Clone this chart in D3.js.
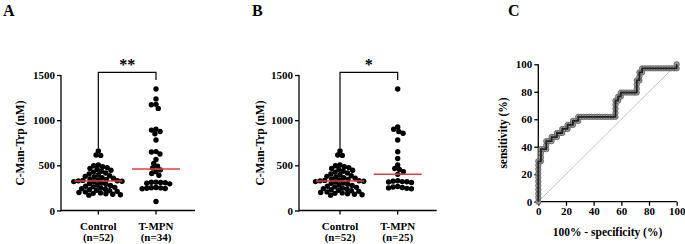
<!DOCTYPE html>
<html><head><meta charset="utf-8">
<script src="https://cdn.jsdelivr.net/npm/d3@7"></script>
<style>
body{margin:0;background:#fff}
text{font-family:"Liberation Serif","Times New Roman",serif;font-weight:bold;fill:#000}
</style>
</head><body><svg id="c" width="685" height="244"></svg>
<script>
// ---------------- data ----------------
const categories = ["Control", "T-MPN"];
const nLabelsA = ["(n=52)", "(n=34)"];
const nLabelsB = ["(n=52)", "(n=25)"];
const controlValues = [660, 615, 610, 505, 495, 485, 475, 465, 455, 445, 435, 425, 415, 405, 395,
  385, 378, 371, 364, 357, 350, 344, 338, 333, 330, 328, 324, 320, 317, 305, 298,
  290, 283, 276, 269, 262, 256, 248, 242,
  236, 230, 224, 218, 212, 206, 200, 195, 190, 185, 180, 175, 170];
const tmpnA = [1345, 1235, 1175, 1170, 1130, 900, 890, 875, 850, 780,
  652, 648, 625, 565, 520, 490, 470, 450, 430, 410, 390,
  314, 312, 310, 308, 302, 295, 254, 252, 250, 246, 244, 240, 100];
const tmpnB = [1345, 925, 900, 875, 855, 780, 650, 575, 505, 465, 455, 430, 400,
  330, 325, 320, 318, 315, 310, 265, 260, 255, 250, 245, 240];
const yTicks = [0, 500, 1000, 1500];
const rocTicks = [0, 20, 40, 60, 80, 100];
const sigA = "**", sigB = "*";
const bracketValues = {leftEnd: 690, rightEnd: 1445, top: 1530};

// ---------------- drawing ----------------
const svg = d3.select("#c");
const red = "#e5413a";
const R = 2.7;

function swarm(vals, cx, y, r) {
  const pts = vals.map(v => ({v, y: y(v)})).sort((a, b) => a.y - b.y);
  const placed = [];
  const d = 2 * r * 0.86;
  for (const p of pts) {
    const blocked = [];
    for (const q of placed) {
      const dy = Math.abs(q.y - p.y);
      if (dy < d) { const w = Math.sqrt(d * d - dy * dy); blocked.push([q.dx - w, q.dx + w]); }
    }
    const cands = [0];
    blocked.forEach(b => cands.push(b[0], b[1]));
    cands.sort((a, b) => Math.abs(a) - Math.abs(b));
    let dx = 0;
    for (const c of cands) {
      if (!blocked.some(b => c > b[0] + 1e-6 && c < b[1] - 1e-6)) { dx = c; break; }
    }
    p.dx = dx; placed.push(p);
  }
  return placed.map(p => ({x: cx + p.dx, y: p.y}));
}

function styleAxis(a) {
  a.select(".domain").remove();
  a.selectAll("line").attr("stroke", "#000").attr("stroke-width", 1.3);
  a.selectAll("text").style("font-size", "11px").style("font-family", "Liberation Serif").style("font-weight", "bold");
}

function scatterPanel(o) {
  const g = svg.append("g");
  const y = d3.scaleLinear().domain([0, 1500]).range([210.5, 75]);
  const x = d3.scalePoint().domain(categories).range(o.cats);
  const ya = g.append("g").attr("transform", `translate(${o.axisX},0)`)
    .call(d3.axisLeft(y).tickValues(yTicks).tickSize(4).tickPadding(2).tickFormat(d3.format("d")));
  styleAxis(ya);
  g.append("line").attr("x1", o.axisX).attr("x2", o.axisX).attr("y1", y(0) + 0.65).attr("y2", y(1500))
    .attr("stroke", "#000").attr("stroke-width", 1.3);
  g.append("line").attr("x1", o.axisX).attr("x2", o.xEnd).attr("y1", y(0)).attr("y2", y(0))
    .attr("stroke", "#000").attr("stroke-width", 1.3);
  categories.forEach((c, i) => {
    g.append("line").attr("x1", x(c)).attr("x2", x(c)).attr("y1", y(0)).attr("y2", y(0) + 4)
      .attr("stroke", "#000").attr("stroke-width", 1.3);
    g.append("text").attr("x", x(c)).attr("y", 229.5).attr("text-anchor", "middle").style("font-size", "11px").text(c);
    g.append("text").attr("x", x(c)).attr("y", 240.5).attr("text-anchor", "middle").style("font-size", "11px").text(o.nLabels[i]);
  });
  g.append("text").attr("transform", `translate(${o.titleX},143) rotate(-90)`).attr("text-anchor", "middle")
    .style("font-size", "11.5px").text("C-Man-Trp (nM)");
  const xl = x(categories[0]), xr = x(categories[1]);
  g.append("path").attr("d", `M${xl},${y(bracketValues.leftEnd)}V${y(bracketValues.top)}H${xr}V${y(bracketValues.rightEnd)}`)
    .attr("fill", "none").attr("stroke", "#000").attr("stroke-width", 1.2);
  g.append("text").attr("x", (xl + xr) / 2).attr("y", 70).attr("text-anchor", "middle")
    .style("font-size", "16px").text(o.sig);
  o.groups.forEach((vals, i) => {
    const pts = swarm(vals, x(categories[i]), y, R);
    g.append("g").selectAll("circle").data(pts).join("circle")
      .attr("cx", d => d.x).attr("cy", d => d.y).attr("r", R).attr("fill", "#000");
  });
  o.groups.forEach((vals, i) => {
    const m = d3.median(vals);
    g.append("line").attr("x1", x(categories[i]) - 24).attr("x2", x(categories[i]) + 24)
      .attr("y1", y(m)).attr("y2", y(m)).attr("stroke", red).attr("stroke-width", 1.5);
  });
  svg.append("text").attr("x", o.letterX).attr("y", 15.5).style("font-size", "16px").text(o.letter);
}

scatterPanel({axisX: 61, xEnd: 195, cats: [98.3, 156], groups: [controlValues, tmpnA],
  nLabels: nLabelsA, sig: sigA, letter: "A", letterX: 3, titleX: 23.5});
scatterPanel({axisX: 299, xEnd: 436.7, cats: [340, 397.7], groups: [controlValues, tmpnB],
  nLabels: nLabelsB, sig: sigB, letter: "B", letterX: 252, titleX: 263.5});

// ---------------- ROC panel ----------------
(function () {
  const g = svg.append("g");
  const x = d3.scaleLinear().domain([0, 100]).range([538.3, 676.7]);
  const y = d3.scaleLinear().domain([0, 100]).range([201.7, 64.3]);
  const thresholds = Array.from(new Set(controlValues.concat(tmpnA))).sort((a, b) => b - a);
  const roc = [{fpr: 0, tpr: 0}];
  thresholds.forEach(t => {
    roc.push({
      fpr: 100 * controlValues.filter(v => v >= t).length / controlValues.length,
      tpr: 100 * tmpnA.filter(v => v >= t).length / tmpnA.length
    });
  });
  g.append("line").attr("x1", x(0)).attr("y1", y(0)).attr("x2", x(100)).attr("y2", y(100))
    .attr("stroke", "#b8b8b8").attr("stroke-width", 0.8);
  const ya = g.append("g").attr("transform", `translate(${x(0)},0)`)
    .call(d3.axisLeft(y).tickValues(rocTicks).tickSize(4).tickPadding(2));
  styleAxis(ya);
  const xa = g.append("g").attr("transform", `translate(0,${y(0)})`)
    .call(d3.axisBottom(x).tickValues(rocTicks).tickSize(4).tickPadding(2));
  styleAxis(xa);
  g.append("path").attr("d", `M${x(0)},${y(100)}V${y(0) + 0.65}`).attr("stroke", "#000").attr("stroke-width", 1.3);
  g.append("path").attr("d", `M${x(0) - 0.65},${y(0)}H${x(100)}`).attr("stroke", "#000").attr("stroke-width", 1.3);
  g.append("g").selectAll("circle").data(roc).join("circle")
    .attr("cx", d => x(d.fpr)).attr("cy", d => y(d.tpr)).attr("r", 2.7)
    .attr("fill", "#9a9a9a").attr("stroke", "#555").attr("stroke-width", 0.7);
  g.append("path").datum(roc)
    .attr("d", d3.line().x(d => x(d.fpr)).y(d => y(d.tpr)))
    .attr("fill", "none").attr("stroke", "#222").attr("stroke-width", 1.8);
  g.append("text").attr("transform", `translate(507,133) rotate(-90)`).attr("text-anchor", "middle")
    .style("font-size", "11.5px").text("sensitivity (%)");
  g.append("text").attr("x", 607.5).attr("y", 235.5).attr("text-anchor", "middle")
    .style("font-size", "11.5px").text("100% - specificity (%)");
  svg.append("text").attr("x", 508).attr("y", 15.5).style("font-size", "16px").text("C");
})();
</script>
</body></html>
